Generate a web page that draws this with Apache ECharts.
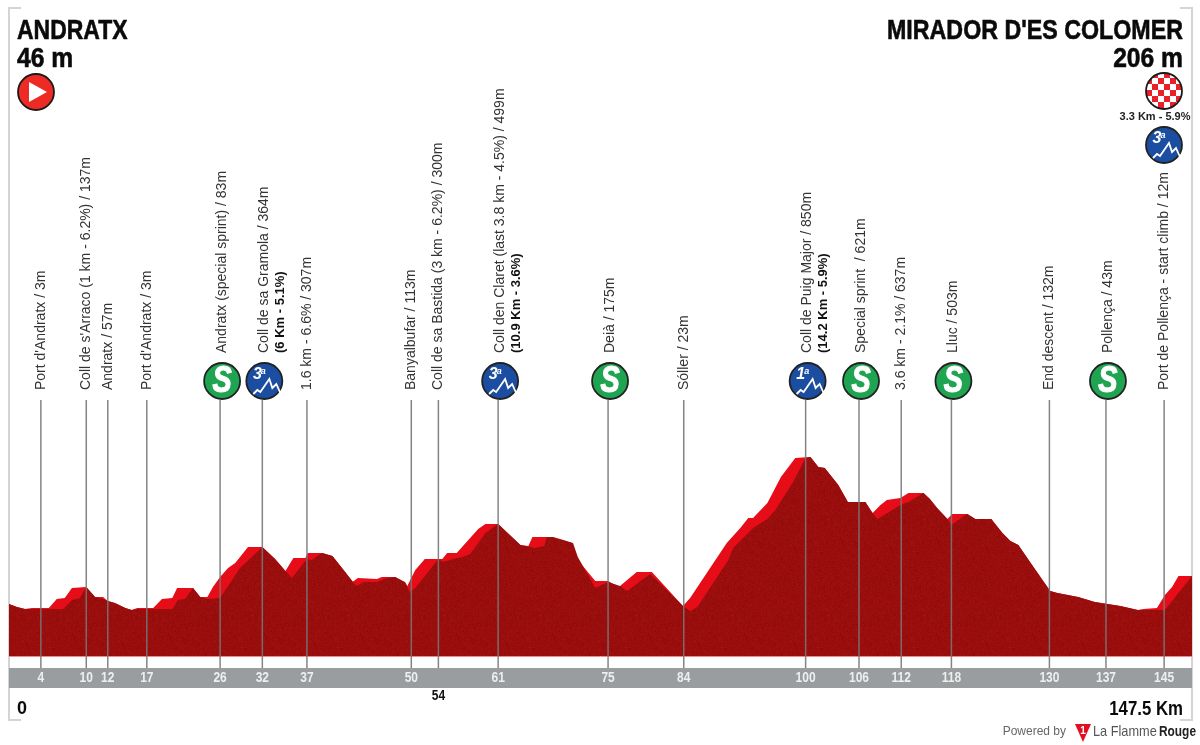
<!DOCTYPE html>
<html>
<head>
    <meta charset="utf-8">
    <title>Andratx - Mirador d'es Colomer</title>
    <script src="https://cdn.jsdelivr.net/npm/echarts@6/dist/echarts.min.js"></script>
    <style>
        html, body { margin: 0; padding: 0; background: #fff; }
        #main { width: 1200px; height: 745px; }
    </style>
</head>
<body>
    <div id="main"></div>
    <script type="text/javascript">
        // profile: km / metres, back edge (bright red)
        var topKm = [0,1,2,2.9,5,6,7,7.9,9.7,10.8,11.8,12.4,13.3,14.6,15.4,16.1,18.1,19.2,20.5,21.1,23.1,24,24.9,25.6,26.5,27.5,28.4,30,31.8,33.4,34.7,35.7,37.2,37.5,39.3,40.6,42.2,43.1,43.8,46.2,46.8,48.5,49.1,49.7,50,51,52.2,54.4,55,56.2,58.9,59.8,61.4,64.2,65.2,65.7,67.5,68.3,69.6,70.8,71.4,73.6,75.2,76.3,76.7,77.6,78.8,80.7,84.6,85.5,90.1,91.8,92.8,93.4,95.2,96.9,98.7,100.6,101.6,102.4,104.1,105.3,107.5,108.4,109.4,110.2,111.9,112.9,114.8,115.6,116.5,117.8,118.4,120.3,121.3,123.3,124.7,125.7,126.7,128.6,130.7,131.6,134.2,136.3,139.5,141.7,142.4,144.1,145.1,146,146.8,148.5];
        var topM = [47,30,19,25,25,74,80,135,141,85,85,63,52,25,14,25,25,74,80,135,135,85,85,141,195,245,273,361,361,294,228,300,300,327,327,311,223,168,190,184,195,195,168,168,146,234,294,294,327,327,459,487,487,371,366,415,415,399,382,305,289,173,173,146,146,179,223,223,36,80,382,465,520,520,602,746,850,855,800,795,701,608,608,547,591,619,630,657,657,624,575,514,542,542,514,514,437,393,371,250,118,107,85,58,36,14,19,25,96,141,201,201];
        // front face (dark red), same edge on descents, set back on climbs
        var faceKm = [0,1,2,5,6.8,7.9,8.9,9.7,10.8,11.8,12.4,13.3,14.6,15.4,16.1,19.6,20.5,21.2,22.1,23.1,24,24.9,26.5,29,31.8,33.4,34.7,35.5,37.4,38,39.3,40.6,42.2,43.6,44.5,46.2,47.5,48.5,49.7,50.3,51,53.9,54.5,55.7,56.9,57.9,59.8,61.4,64.2,66,67.2,67.5,68.3,69.6,70.8,71.4,73.6,75.2,76.7,77.6,80.5,80.7,84.6,85.5,86.4,90.3,90.9,93.4,95.2,96.2,98.4,100,100.6,101.6,102.4,104.1,105.3,107.5,108.4,109,111.9,112.9,114.8,115.6,116.5,117.8,118.3,119.8,120.3,121.3,123.3,124.7,125.7,126.7,128.6,130.7,131.6,134.2,136.3,139.5,141.7,144.1,145.1,148.5];
        var faceM = [47,30,19,19,19,69,80,141,85,74,63,52,25,14,19,19,19,69,74,135,85,74,80,245,361,294,228,190,294,289,327,311,223,146,168,168,190,195,168,113,135,294,278,294,305,322,437,487,371,355,366,415,415,399,382,305,135,168,146,118,212,223,36,8,30,289,355,465,514,564,717,850,855,800,795,701,608,608,547,514,591,608,657,624,575,514,481,530,542,514,514,437,393,371,250,118,107,85,58,36,14,14,14,201];

        // stops on the road
        var stopKm = [4,9.7,12.4,17.3,26.5,31.8,37.4,50.5,53.9,61.4,75.2,84.7,100,106.7,112,118.3,130.6,137.7,145];
        var stopKmLabel = ['4','10','12','17','26','32','37','50','54','61','75','84','100','106','112','118','130','137','145'];
        var stopName = [
            "Port d'Andratx / 3m",
            "Coll de s'Arraco (1 km - 6.2%) / 137m",
            "Andratx / 57m",
            "Port d'Andratx / 3m",
            "Andratx (special sprint) / 83m",
            "Coll de sa Gramola / 364m",
            "1.6 km - 6.6% / 307m",
            "Banyalbufar / 113m",
            "Coll de sa Bastida (3 km - 6.2%) / 300m",
            "Coll den Claret (last 3.8 km - 4.5%) / 499m",
            "Deià / 175m",
            "Sóller / 23m",
            "Coll de Puig Major / 850m",
            "Special sprint  / 621m",
            "3.6 km - 2.1% / 637m",
            "Lluc / 503m",
            "End descent / 132m",
            "Pollença / 43m",
            "Port de Pollença - start climb / 12m"
        ];
        var stopClimb = ['','','','','','(6 Km - 5.1%)','','','','(10.9 Km - 3.6%)','','','(14.2 Km - 5.9%)','','','','','',''];
        var stopIcon = ['','','','','S','3','','','','3','S','','1','S','','S','','S',''];

        var KM_MAX = 148.5;
        var TEXT_FONT = '"Liberation Sans", Arial, sans-serif';

        // speckle for the dark face, fixed sequence
        function makeSpeckle() {
            var c = document.createElement('canvas');
            c.width = 96; c.height = 96;
            var ctx = c.getContext('2d');
            var seed = 12345;
            for (var y = 0; y < 96; y++) {
                for (var x = 0; x < 96; x++) {
                    seed = (seed * 1103515245 + 12345) & 0x7fffffff;
                    var d = (seed >> 16) % 17 - 8;
                    ctx.fillStyle = 'rgb(' + (153 + d) + ',' + (14 + Math.round(d / 3)) + ',' + (13 + Math.round(d / 3)) + ')';
                    ctx.fillRect(x, y, 1, 1);
                }
            }
            return c;
        }

        function makeChecker() {
            var c = document.createElement('canvas');
            c.width = 12; c.height = 12;
            var ctx = c.getContext('2d');
            ctx.fillStyle = '#fff';
            ctx.fillRect(0, 0, 12, 12);
            ctx.fillStyle = '#e8202a';
            ctx.fillRect(0, 0, 6, 6);
            ctx.fillRect(6, 6, 6, 6);
            return c;
        }

        function sprintIcon(cx, cy) {
            return [
                { type: 'circle', shape: { cx: cx, cy: cy, r: 18 }, style: { fill: '#1fa552', stroke: '#222', lineWidth: 1.8 } },
                { type: 'text', x: cx, y: cy + 1, scaleX: 0.8, style: { text: 'S', fill: '#fff', stroke: '#fff', lineWidth: 1.2, font: 'italic bold 36px ' + TEXT_FONT, textAlign: 'center', textVerticalAlign: 'middle' } }
            ];
        }

        function climbIcon(cx, cy, cat) {
            return [
                { type: 'circle', shape: { cx: cx, cy: cy, r: 18 }, style: { fill: '#1b4ea0', stroke: '#222', lineWidth: 1.8 } },
                { type: 'text', x: cx - 7, y: cy - 6, style: { text: cat, fill: '#fff', font: 'italic bold 16px ' + TEXT_FONT, textAlign: 'center', textVerticalAlign: 'middle' } },
                { type: 'text', x: cx - 1, y: cy - 9, style: { text: 'a', fill: '#fff', font: 'italic bold 9px ' + TEXT_FONT, textAlign: 'center', textVerticalAlign: 'middle' } },
                { type: 'polyline', shape: { points: [[cx - 11, cy + 13], [cx - 7, cy + 9], [cx - 4, cy + 11], [cx + 5, cy - 2], [cx + 8, cy + 7], [cx + 12, cy + 3], [cx + 16, cy + 12]] }, style: { fill: 'none', stroke: '#fff', lineWidth: 1.8 } }
            ];
        }

        function renderStop(params, api) {
            var i = params.dataIndex;
            var x = api.coord([api.value(0), 0])[0];
            var kids = [
                { type: 'line', shape: { x1: x, y1: 400, x2: x, y2: 668 }, style: { stroke: '#777', lineWidth: 1.5, opacity: 0.9 } }
            ];
            var icon = stopIcon[i];
            var base = icon ? 353 : 390;
            var tx = icon ? x + 2 : x;
            kids.push({
                type: 'text', x: tx, y: base, rotation: Math.PI / 2,
                style: { text: stopName[i], fill: '#333', font: '14px ' + TEXT_FONT, textAlign: 'left', textVerticalAlign: 'middle' }
            });
            if (stopClimb[i]) {
                kids.push({
                    type: 'text', x: x + 18, y: base, rotation: Math.PI / 2,
                    style: { text: stopClimb[i], fill: '#111', font: 'bold 13px ' + TEXT_FONT, textAlign: 'left', textVerticalAlign: 'middle' }
                });
            }
            if (icon === 'S') kids = kids.concat(sprintIcon(x + 2, 381));
            if (icon === '3' || icon === '1') kids = kids.concat(climbIcon(x + 2, 381, icon));

            // km under the line, 54 falls out of the band in the original
            var below = stopKmLabel[i] === '54';
            kids.push({
                type: 'text', x: x, y: below ? 696 : 678, scaleX: 0.8,
                style: { text: stopKmLabel[i], fill: below ? '#111' : '#eee', font: 'bold 15px ' + TEXT_FONT, textAlign: 'center', textVerticalAlign: 'middle' }
            });
            return { type: 'group', children: kids };
        }

        function renderBand(params, api) {
            var a = api.coord([0, 0])[0];
            var b = api.coord([KM_MAX, 0])[0];
            return {
                type: 'group',
                children: [
                    { type: 'rect', shape: { x: a, y: 668, width: b - a, height: 20 }, style: { fill: '#9a9d9f' } },
                    { type: 'line', shape: { x1: a, y1: 656.5, x2: b, y2: 656.5 }, style: { stroke: '#f08a8a', lineWidth: 1 } }
                ]
            };
        }

        var frame = { stroke: '#d4d4d4', lineWidth: 2, fill: 'none' };
        var checkerImg = makeChecker();

        function headText(x, y, text, scale, align) {
            return {
                type: 'text', x: x, y: y, scaleX: scale,
                style: { text: text, fill: '#0a0a0a', stroke: '#0a0a0a', lineWidth: 0.6, font: 'bold 28px ' + TEXT_FONT, textAlign: align, textVerticalAlign: 'middle' }
            };
        }

        var graphics = [
            { type: 'polyline', shape: { points: [[21, 8], [9, 8], [9, 720], [21, 720]] }, style: frame },
            { type: 'polyline', shape: { points: [[1180, 8], [1192, 8], [1192, 720], [1180, 720]] }, style: frame },

            headText(17, 31, 'ANDRATX', 0.82, 'left'),
            headText(17, 59, '46 m', 0.88, 'left'),
            headText(1183, 31, "MIRADOR D'ES COLOMER", 0.83, 'right'),
            headText(1183, 59, '206 m', 0.88, 'right'),

            { type: 'circle', shape: { cx: 36, cy: 92, r: 18 }, style: { fill: '#ee2a24', stroke: '#1a1a1a', lineWidth: 1.8 } },
            { type: 'polygon', shape: { points: [[29, 82], [29, 102], [47, 92]] }, style: { fill: '#fff' } },

            { type: 'circle', shape: { cx: 1164, cy: 91, r: 18 }, style: { fill: { image: checkerImg, repeat: 'repeat' }, stroke: '#1a1a1a', lineWidth: 1.8 } },
            { type: 'text', x: 1155, y: 117, style: { text: '3.3 Km - 5.9%', fill: '#222', font: 'bold 11px ' + TEXT_FONT, textAlign: 'center', textVerticalAlign: 'middle' } },

            { type: 'text', x: 17, y: 709, style: { text: '0', fill: '#0a0a0a', font: 'bold 18px ' + TEXT_FONT, textVerticalAlign: 'middle' } },
            { type: 'text', x: 1183, y: 709, scaleX: 0.84, style: { text: '147.5 Km', fill: '#0a0a0a', font: 'bold 20px ' + TEXT_FONT, textAlign: 'right', textVerticalAlign: 'middle' } },

            { type: 'text', x: 1066, y: 732, style: { text: 'Powered by', fill: '#666', font: '12px ' + TEXT_FONT, textAlign: 'right', textVerticalAlign: 'middle' } },
            { type: 'polygon', shape: { points: [[1075, 724], [1091, 724], [1083, 742]] }, style: { fill: '#e30d20' } },
            { type: 'text', x: 1083, y: 731, style: { text: '1', fill: '#fff', font: 'bold 10px ' + TEXT_FONT, textAlign: 'center', textVerticalAlign: 'middle' } },
            { type: 'text', x: 1093, y: 732, scaleX: 0.88, style: { text: 'La Flamme', fill: '#555', font: '14.5px ' + TEXT_FONT, textVerticalAlign: 'middle' } },
            { type: 'text', x: 1196, y: 732, scaleX: 0.85, style: { text: 'Rouge', fill: '#222', font: 'bold 14px ' + TEXT_FONT, textAlign: 'right', textVerticalAlign: 'middle' } },
            { type: 'group', children: climbIcon(1164, 145, '3') }
        ];

        function pairs(xs, ys) {
            return xs.map(function (v, i) { return [v, ys[i]]; });
        }

        var myChart = echarts.init(document.getElementById('main'));
        myChart.setOption({
            animation: false,
            backgroundColor: '#fff',
            grid: { left: 9, right: 8, top: 440, bottom: 89 },
            xAxis: { type: 'value', min: 0, max: KM_MAX, show: false },
            yAxis: { type: 'value', min: -239, max: 949, show: false },
            graphic: graphics,
            series: [
                {
                    type: 'line', data: pairs(topKm, topM), symbol: 'none', z: 2,
                    lineStyle: { width: 0 },
                    areaStyle: { color: '#e60d18', opacity: 1, origin: 'start' }
                },
                {
                    type: 'line', data: pairs(faceKm, faceM), symbol: 'none', z: 3,
                    lineStyle: { width: 0 },
                    areaStyle: { color: { image: makeSpeckle(), repeat: 'repeat' }, opacity: 1, origin: 'start' }
                },
                { type: 'custom', renderItem: renderBand, data: [[0, 0]], z: 4, silent: true },
                { type: 'custom', renderItem: renderStop, data: stopKm.map(function (k) { return [k, 0]; }), z: 5, silent: true }
            ]
        });
    </script>
</body>
</html>
